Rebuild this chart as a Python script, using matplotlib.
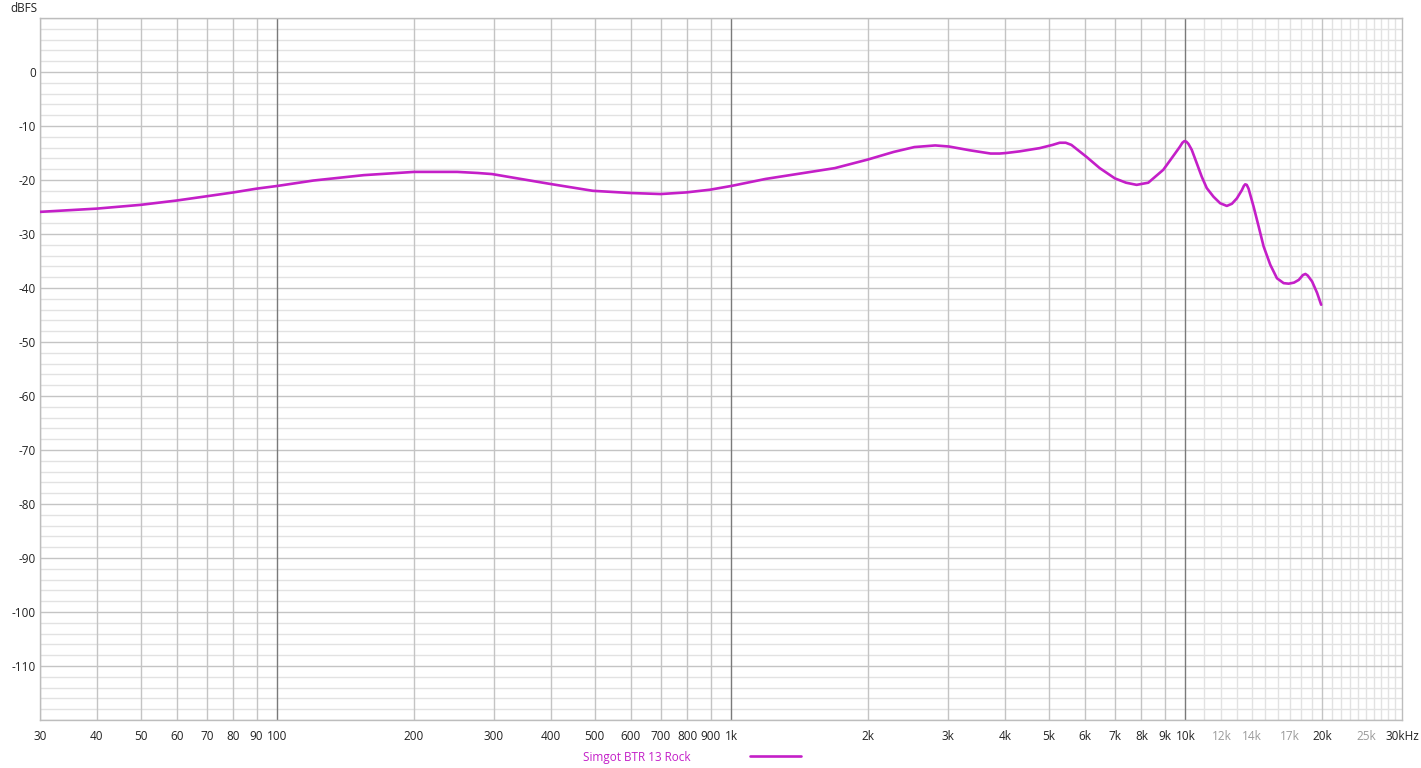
import matplotlib
matplotlib.use("Agg")
import matplotlib.pyplot as plt
import numpy as np

plt.rcParams['font.family'] = ['Open Sans', 'DejaVu Sans']

# frequency response (Hz, dBFS)
freq_hz = [30, 40, 50, 60, 70, 80, 90, 100, 120, 155, 200, 249, 276, 297,
           397, 495, 597, 699, 795, 897, 1000, 1190, 1469, 1690, 2000, 2278,
           2530, 2811, 3015, 3351, 3724, 3896, 4030, 4312, 4775, 5100, 5286,
           5450, 5609, 6053, 6476, 6993, 7400, 7809, 8285, 8942, 9488, 9732,
           9850, 9950, 10050, 10153, 10327, 10594, 10866, 11145, 11533, 11928,
           12339, 12661, 12984, 13313, 13450, 13545, 13650, 13776, 14130,
           14499, 14870, 15381, 15912, 16461, 16887, 17350, 17771, 18150,
           18383, 18600, 19016, 19502, 19909]
level_db = [-25.9, -25.3, -24.6, -23.8, -23.0, -22.3, -21.6, -21.1, -20.1,
            -19.1, -18.5, -18.5, -18.7, -18.9, -20.7, -22.0, -22.4, -22.6,
            -22.3, -21.8, -21.1, -19.8, -18.6, -17.8, -16.2, -14.8, -13.9,
            -13.6, -13.8, -14.5, -15.1, -15.1, -15.0, -14.7, -14.1, -13.5,
            -13.1, -13.1, -13.5, -15.7, -17.8, -19.7, -20.5, -20.9, -20.5,
            -18.1, -15.1, -13.8, -13.1, -12.8, -12.9, -13.3, -14.4, -16.9,
            -19.4, -21.5, -23.1, -24.3, -24.8, -24.4, -23.4, -21.9, -21.1,
            -20.8, -20.9, -21.6, -24.9, -28.6, -32.3, -35.7, -38.2, -39.1,
            -39.2, -39.0, -38.5, -37.6, -37.4, -37.7, -38.8, -40.9, -43.1]
series_name = "Simgot BTR 13 Rock"

x_labels = [30, 40, 50, 60, 70, 80, 90, 100, 200, 300, 400, 500, 600, 700,
            800, 900, 1000, 2000, 3000, 4000, 5000, 6000, 7000, 8000, 9000,
            10000, 12000, 14000, 17000, 20000, 25000, 30000]
x_label_text = ["30", "40", "50", "60", "70", "80", "90", "100", "200", "300",
                "400", "500", "600", "700", "800", "900", "1k", "2k", "3k",
                "4k", "5k", "6k", "7k", "8k", "9k", "10k", "12k", "14k",
                "17k", "20k", "25k", "30kHz"]
gray_labels = ["12k", "14k", "17k", "25k"]
y_labels = list(range(0, -111, -10))

line_col = '#c41fc8'

fig = plt.figure(figsize=(14.21, 7.68), dpi=100)
ax = fig.add_axes([40 / 1421, 48 / 768, 1362 / 1421, 702 / 768])

ax.set_xscale('log')
ax.set_xlim(30, 30000)
ax.set_ylim(-120, 10)

# grid: light / medium / dark tiers
for v in range(-120, 11, 2):
    if v % 10 == 0:
        ax.axhline(v, color='#c4c4c4', lw=1.0, zorder=1)
    else:
        ax.axhline(v, color='#e2e2e2', lw=1.0, zorder=0)

for dec in [10, 100, 1000]:
    for m in range(1, 10):
        f = dec * m
        if f < 30:
            continue
        if m == 1:
            ax.axvline(f, color='#7a7a7a', lw=1.0, zorder=1)
        else:
            ax.axvline(f, color='#c4c4c4', lw=1.0, zorder=1)
ax.axvline(10000, color='#7a7a7a', lw=1.0, zorder=1)
for k in range(11, 30):
    f = k * 1000
    if k == 20:
        ax.axvline(f, color='#c4c4c4', lw=1.0, zorder=1)
    else:
        ax.axvline(f, color='#e2e2e2', lw=1.0, zorder=0)

ax.plot(freq_hz, level_db, color=line_col, lw=1.9, zorder=3, label=series_name,
        solid_capstyle='round', solid_joinstyle='round')

ax.xaxis.set_minor_locator(matplotlib.ticker.NullLocator())
ax.set_xticks(x_labels)
ax.set_xticklabels(x_label_text)
ax.set_yticks(y_labels)
ax.set_yticklabels([str(v) for v in y_labels])
ax.tick_params(axis='both', length=0, labelsize=8.5, colors='#222222')
ax.tick_params(axis='x', pad=7)
ax.tick_params(axis='y', pad=3)
for t in ax.get_xticklabels():
    if t.get_text() in gray_labels:
        t.set_color('#9a9a9a')

for s in ax.spines.values():
    s.set_color('#bdbdbd')
    s.set_linewidth(1.0)

fig.text(10 / 1421, 1 - 9 / 768, "dBFS", fontsize=8.5, color='#222222',
         ha='left', va='center')

leg = ax.legend(loc='center', bbox_to_anchor=(692 / 1421, 1 - 757 / 768),
                bbox_transform=fig.transFigure, frameon=False, markerfirst=False,
                fontsize=8.5, handlelength=4.3, handletextpad=5.0,
                labelcolor='linecolor', borderpad=0)

fig.savefig("out.png", dpi=100)
